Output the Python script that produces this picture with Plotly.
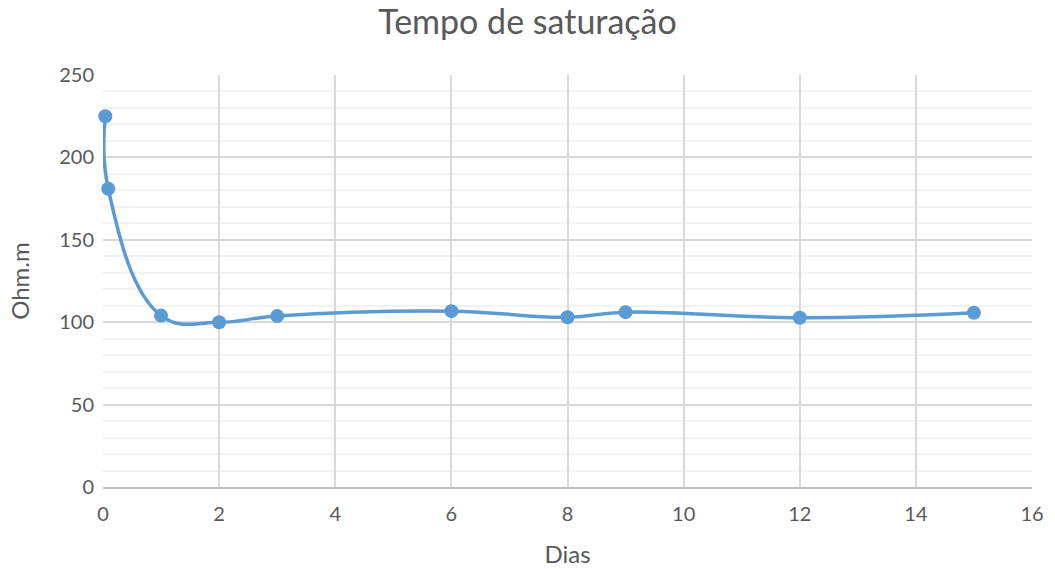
import plotly.graph_objects as go

dias = [0.04, 0.09, 1, 2, 3, 6, 8, 9, 12, 15]
ohm = [225, 181, 104, 100, 103.7, 106.7, 103, 106.1, 102.7, 105.7]

x_ticks = [0, 2, 4, 6, 8, 10, 12, 14, 16]
y_ticks = [0, 50, 100, 150, 200, 250]

title_text = "Tempo de saturação"
x_title = "Dias"
y_title = "Ohm.m"

line_color = "#5B9BD5"
text_color = "#595959"
font_family = "Lato, 'Open Sans', sans-serif"

fig = go.Figure()
fig.add_trace(go.Scatter(
    x=dias, y=ohm, mode="lines+markers",
    line=dict(color=line_color, width=3.5, shape="spline", smoothing=1.2),
    marker=dict(color=line_color, size=14),
    showlegend=False, cliponaxis=False,
))

fig.update_layout(
    width=1055, height=569,
    margin=dict(l=103, r=23, t=75, b=82),
    paper_bgcolor="white", plot_bgcolor="white",
    font=dict(family=font_family, color=text_color, size=20),
    title=dict(text=title_text, x=0.5, xanchor="center", y=1 - 22 / 569, yanchor="middle",
               font=dict(size=34, color=text_color, family=font_family)),
    xaxis=dict(
        range=[0, 16], tickvals=x_ticks, ticktext=[str(v) for v in x_ticks],
        showgrid=True, gridcolor="#D9D9D9", gridwidth=1.5,
        zeroline=False, showline=True, linecolor="#BFBFBF", linewidth=1.5,
        ticks="", tickfont=dict(size=20, color=text_color), ticklabelstandoff=8,
        title=dict(text=x_title, font=dict(size=24, color=text_color), standoff=22),
        mirror=False, automargin=False,
    ),
    yaxis=dict(
        range=[0, 250], tickvals=y_ticks, ticktext=[str(v) for v in y_ticks],
        showgrid=True, gridcolor="#D9D9D9", gridwidth=1.5,
        zeroline=False, showline=False,
        ticks="", tickfont=dict(size=20, color=text_color), ticklabelstandoff=8,
        minor=dict(dtick=10, showgrid=True, gridcolor="#F2F2F2", gridwidth=1.5),
        title=dict(text=y_title, font=dict(size=24, color=text_color), standoff=22),
        automargin=False,
    ),
)

fig.write_html("out.html", config={"displayModeBar": False},
               post_script="document.body.style.margin='0';")
